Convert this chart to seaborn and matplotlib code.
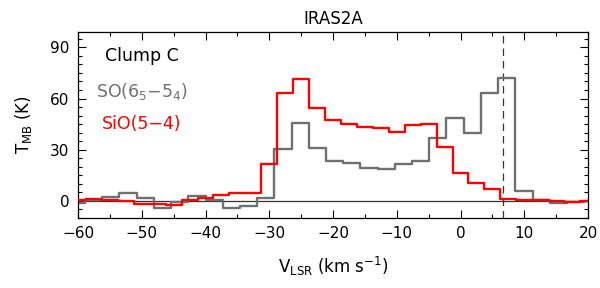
import numpy as np
import pandas as pd
import seaborn as sns
import matplotlib.pyplot as plt
from matplotlib.ticker import MultipleLocator

# channel left edges (km/s) and brightness (K)
so_edges = [-61.6, -58.9, -56.2, -53.5, -50.8, -48.1, -45.4, -42.7, -40.0, -37.3,
            -34.6, -31.9, -29.2, -26.5, -23.8, -21.1, -18.4, -15.7, -13.0, -10.3,
            -7.6, -4.9, -2.2, 0.5, 3.2, 5.9, 8.6, 11.3, 14.0, 16.7, 19.4, 22.1]
so_tmb = [-1.4, 0.3, 2.5, 4.9, 1.5, -4.0, -0.4, 2.9, 0.6, -3.9,
          -2.9, 2.0, 30.4, 45.8, 31.2, 23.6, 22.0, 19.5, 18.7, 21.6,
          23.4, 36.7, 48.7, 40.0, 63.0, 72.3, 6.0, 0.5, -1.0, -0.5, 0.0]

sio_edges = [-61.25, -58.75, -56.25, -53.75, -51.25, -48.75, -46.25, -43.75, -41.25,
             -38.75, -36.25, -33.75, -31.25, -28.75, -26.25, -23.75, -21.25, -18.75,
             -16.25, -13.75, -11.25, -8.75, -6.25, -3.75, -1.25, 1.25, 3.75, 6.25,
             8.75, 11.25, 13.75, 16.25, 18.75, 21.25]
sio_tmb = [0.3, 1.0, 0.5, 0.2, -1.5, -1.8, -2.2, 0.6, 1.9,
           3.5, 4.5, 4.5, 21.4, 63.0, 71.3, 54.6, 47.4, 44.8,
           43.6, 42.8, 40.3, 44.6, 45.3, 31.7, 16.3, 10.7, 6.8, 1.0,
           0.5, 0.3, -0.2, -0.5, -0.3]

v_sys = 6.6

so_df = pd.DataFrame({'v': so_edges, 'T': so_tmb + [so_tmb[-1]]})
sio_df = pd.DataFrame({'v': sio_edges, 'T': sio_tmb + [sio_tmb[-1]]})

sns.set_theme(style='ticks')
plt.rcParams['font.family'] = ['DejaVu Sans']
plt.rcParams['mathtext.default'] = 'regular'
plt.rcParams['text.color'] = 'black'
plt.rcParams['axes.labelcolor'] = 'black'
plt.rcParams['xtick.color'] = 'black'
plt.rcParams['ytick.color'] = 'black'

fig = plt.figure(figsize=(6, 2.88), dpi=100)
ax = fig.add_axes([0.13, 0.243, 0.85, 0.646])

ax.axhline(0, color='#333333', lw=0.9, zorder=1)
ax.axvline(v_sys, color='#333333', lw=0.9, ls=(0, (6, 4)), zorder=1)

sns.lineplot(data=so_df, x='v', y='T', drawstyle='steps-post', color='#707070',
             lw=1.7, estimator=None, sort=False, ax=ax, legend=False, zorder=2)
sns.lineplot(data=sio_df, x='v', y='T', drawstyle='steps-post', color='#ff0000',
             lw=1.7, estimator=None, sort=False, ax=ax, legend=False, zorder=3)

ax.set_xlim(-60, 20)
ax.set_ylim(-10, 99)
ax.xaxis.set_major_locator(MultipleLocator(10))
ax.xaxis.set_minor_locator(MultipleLocator(5))
ax.yaxis.set_major_locator(MultipleLocator(30))
ax.yaxis.set_minor_locator(MultipleLocator(5))
ax.tick_params(which='both', direction='in', top=True, right=True,
               width=0.8, labelsize=11, pad=6)
ax.tick_params(which='major', length=6)
ax.tick_params(which='minor', length=3)
for s in ax.spines.values():
    s.set_color('black')
    s.set_linewidth(0.9)

ax.set_xlabel('V$_{LSR}$ (km s$^{-1}$)', fontsize=12, labelpad=10)
ax.set_ylabel('T$_{MB}$ (K)', fontsize=12, labelpad=12)
ax.set_title('IRAS2A', fontsize=12, pad=6, color='black')

ax.text(-50, 85, 'Clump C', color='black', fontsize=12.5, ha='center', va='center')
ax.text(-50, 64, 'SO(6$_5$−5$_4$)', color='#707070', fontsize=12.5, ha='center', va='center')
ax.text(-50, 45, 'SiO(5−4)', color='#ff0000', fontsize=12.5, ha='center', va='center')

fig.savefig('out.png', dpi=100)
